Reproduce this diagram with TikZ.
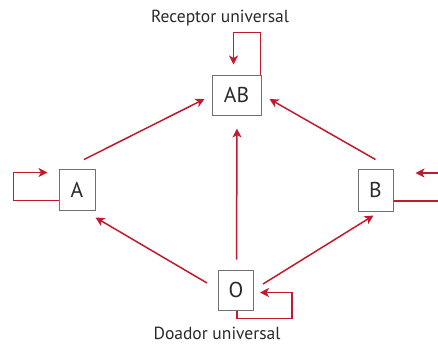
\documentclass[tikz,border=0pt]{standalone}
\usepackage{fontspec}
\setmainfont{PT Sans}
\usetikzlibrary{arrows.meta}
\definecolor{arrred}{HTML}{C01A2C}
\definecolor{boxgray}{HTML}{707070}
\definecolor{txtgray}{HTML}{2A2A2A}
\tikzset{
  bloodbox/.style={draw=boxgray, line width=1pt, inner sep=0pt, text=txtgray,
    font=\fontsize{21.5}{25}\selectfont},
  arr/.style={draw=arrred, line width=1.5pt, -{Stealth[length=9pt,width=9pt,inset=2.5pt]}},
  lbl/.style={text=txtgray, font=\fontsize{17.5}{21}\selectfont, inner sep=0pt}
}
\begin{document}
\begin{tikzpicture}[x=1pt,y=-1pt]
\clip (0,0) rectangle (438,349);
\useasboundingbox (0,0) rectangle (438,349);
\node[bloodbox, minimum width=49pt, minimum height=40pt] (AB) at (236.5,95) {AB};
\node[bloodbox, minimum width=36pt, minimum height=41pt] (A) at (77,189.5) {A};
\node[bloodbox, minimum width=35pt, minimum height=42pt] (B) at (375.5,190) {B};
\node[bloodbox, minimum width=35pt, minimum height=40pt] (O) at (236,290) {O};
\node[lbl] (rec) at (220,18.5) {Receptor universal};
\node[lbl] (doa) at (217,333) {Doador universal};
% main arrows
\draw[arr] ([shift={(7,-9)}]A.north) -- ([shift={(-7,4)}]AB.west);
\draw[arr] ([shift={(0,-9)}]B.north) -- ([shift={(8,4)}]AB.east);
\draw[arr] ([shift={(0.5,-10)}]O.north) -- ([shift={(0.5,13)}]AB.south);
\draw[arr] ([shift={(-11,-7)}]O.west) -- ([shift={(0,7)}]A.south east);
\draw[arr] ([shift={(9,-6)}]O.east) -- ([shift={(-2,4)}]B.south);
% self loops
\draw[arr] ([shift={(-1,0)}]AB.north east) -- ++(0,-42) -- ++(-27,0) -- ++(0,32);
\draw[arr] ([shift={(0,11)}]A.west) -- ++(-45,0) -- ++(0,-28) -- ++(34,0);
\draw[arr] ([shift={(0,11)}]B.east) -- ++(60,0) -- ++(0,-28) -- ++(-38,0);
\draw[arr] ([shift={(1,0)}]O.south) -- ++(0,8) -- ++(55,0) -- ++(0,-26) -- ++(-32,0);
\end{tikzpicture}
\end{document}
